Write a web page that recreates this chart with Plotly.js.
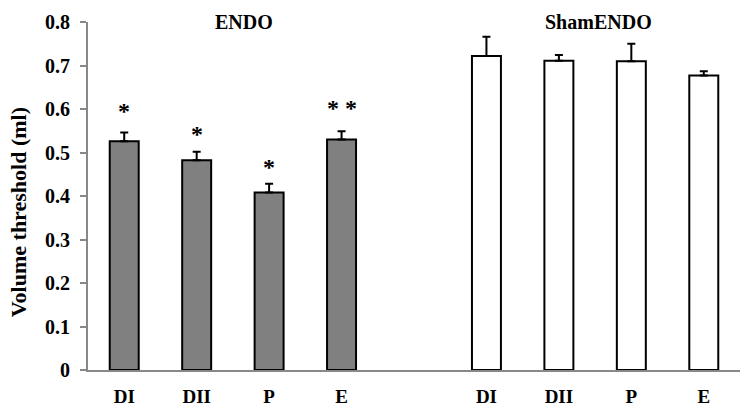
<!DOCTYPE html>
<html>
<head>
<meta charset="utf-8">
<script src="https://cdn.plot.ly/plotly-3.0.1.min.js"></script>
<style>
  html,body{margin:0;padding:0;background:#fff}
  #chart{width:742px;height:410px}
</style>
</head>
<body>
<div id="chart"></div>
<script>
// ── data ──
const groups=['ENDO','ShamENDO'];
const phases=['DI','DII','P','E'];
const endoVals=[0.526,0.482,0.408,0.530];
const endoErr=[0.020,0.020,0.020,0.019];
const shamVals=[0.722,0.711,0.710,0.677];
const shamErr=[0.044,0.013,0.040,0.010];
const endoMarks=['*','*','*','* *'];
const markY=[0.595,0.542,0.466,0.602];
const yTicks=[0,0.1,0.2,0.3,0.4,0.5,0.6,0.7,0.8];
const yTitle='Volume threshold (ml)';

// slot positions: 4 bars, one empty slot, 4 bars
const endoX=[0,1,2,3];
const shamX=[5,6,7,8];
const serif='"Liberation Serif","Times New Roman",serif';

const barStyle=(fill)=>({color:fill,line:{color:'#000',width:2}});
const errStyle=(arr)=>({type:'data',symmetric:false,array:arr,arrayminus:arr.map(()=>0),
  color:'#000',thickness:2,width:4});

const traces=[
  {type:'bar',x:endoX,y:endoVals,width:0.4,marker:barStyle('#808080'),error_y:errStyle(endoErr),hoverinfo:'y'},
  {type:'bar',x:shamX,y:shamVals,width:0.4,marker:barStyle('#ffffff'),error_y:errStyle(shamErr),hoverinfo:'y'}
];

const annotations=[
  ...endoMarks.map((t,i)=>({x:endoX[i],y:markY[i],text:'<b>'+t+'</b>',showarrow:false,
    font:{family:serif,size:24,color:'#000'},yanchor:'middle'})),
  {x:1.65,y:0.8,text:'<b>'+groups[0]+'</b>',showarrow:false,font:{family:serif,size:20,color:'#000'},yanchor:'middle'},
  {x:6.55,y:0.8,text:'<b>'+groups[1]+'</b>',showarrow:false,font:{family:serif,size:20,color:'#000'},yanchor:'middle'},
  // y-axis title placed a little below centre, as in the original
  {xref:'paper',yref:'paper',x:-0.107,y:0.454,textangle:-90,showarrow:false,
    xanchor:'center',yanchor:'middle',text:'<b>'+yTitle+'</b>',font:{family:serif,size:22,color:'#000'}}
];

Plotly.newPlot('chart',traces,{
  width:742,height:410,
  margin:{l:88,r:2,t:22,b:40},
  paper_bgcolor:'#fff',plot_bgcolor:'#fff',
  showlegend:false,
  font:{family:serif,color:'#000'},
  xaxis:{
    range:[-0.5,8.5],
    tickvals:[...endoX,...shamX],
    ticktext:[...phases,...phases].map(s=>'<b>'+s+'</b>'),
    tickfont:{family:serif,size:19,color:'#000'},
    ticklabelstandoff:8,
    showline:true,linecolor:'#888',linewidth:2,
    ticks:'',showgrid:false,zeroline:false,fixedrange:true
  },
  yaxis:{
    range:[0,0.8],
    tickvals:yTicks,
    ticktext:yTicks.map(v=>'<b>'+(v===0?'0':v.toFixed(1))+'</b>'),
    tickfont:{family:serif,size:20,color:'#000'},
    ticklabelstandoff:6,
    showline:true,linecolor:'#888',linewidth:2,
    ticks:'outside',ticklen:6,tickcolor:'#888',tickwidth:2,
    showgrid:false,zeroline:false,fixedrange:true
  },
  annotations
},{displayModeBar:false,staticPlot:true});
</script>
</body>
</html>
